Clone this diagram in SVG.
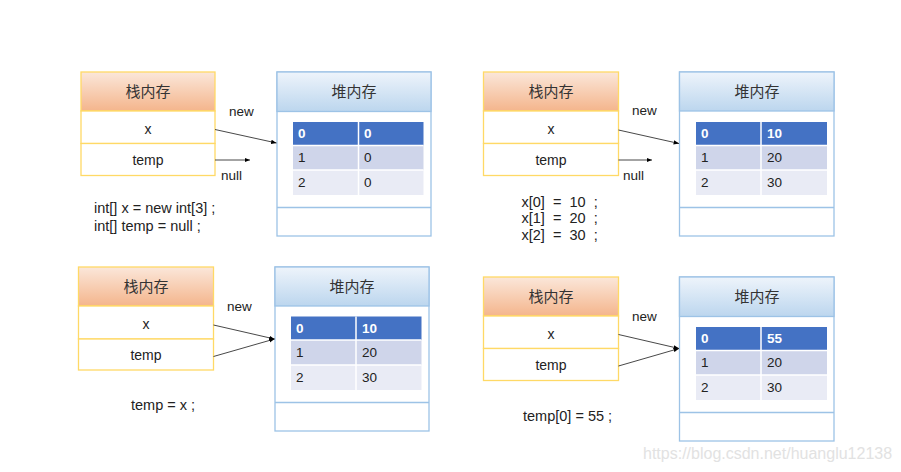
<svg xmlns="http://www.w3.org/2000/svg" width="901" height="472" viewBox="0 0 901 472">
<defs>
<linearGradient id="gs" x1="0" y1="0" x2="0" y2="1"><stop offset="0" stop-color="#fbe7da"/><stop offset="1" stop-color="#f4b58c"/></linearGradient>
<linearGradient id="gh" x1="0" y1="0" x2="0" y2="1"><stop offset="0" stop-color="#eef4fb"/><stop offset="1" stop-color="#bcd6ee"/></linearGradient>
<marker id="ah" viewBox="0 0 10 10" refX="10" refY="5" markerWidth="6" markerHeight="6" orient="auto"><path d="M0,1 L10,5 L0,9 z" fill="#000"/></marker>
</defs>
<style>
.sb{fill:#fff;stroke:#ffd966;stroke-width:1.3}
.sh{fill:url(#gs);stroke:#ffd966;stroke-width:1.3}
.hb{fill:#fff;stroke:#9dc3e6;stroke-width:1.3}
.hh{fill:url(#gh);stroke:#9dc3e6;stroke-width:1.3}
.t0{fill:#4472c4}
.t1{fill:#cfd5ea}
.t2{fill:#e9ebf5}
.cut{stroke:#fff;stroke-width:1.5}
.cn{font-family:"Noto Sans CJK SC",sans-serif;font-size:15px;fill:#333;text-anchor:middle}
.tx{font-family:"Liberation Sans",Arial,sans-serif;font-size:13.5px;fill:#222}
.rw{font-size:14px}
.cd{font-size:14.5px}
.mid{text-anchor:middle}
.wh{fill:#fff;font-weight:bold}
.ln{stroke:#333;stroke-width:0.9;fill:none}
.wm{font-family:"Liberation Sans",Arial,sans-serif;font-size:16px;fill:#e2e2e2}
</style>
<rect width="901" height="472" fill="#fff"/>

<g id="stack1">
<rect class="sh" x="81" y="72" width="134" height="39"/>
<rect class="sb" x="81" y="111" width="134" height="32.5"/>
<rect class="sb" x="81" y="143.5" width="134" height="32"/>
<text class="cn" x="148" y="97">栈内存</text>
<text class="tx rw mid" x="148" y="134">x</text>
<text class="tx rw mid" x="148" y="165">temp</text>
</g>
<g id="heap1">
<rect class="hb" x="277" y="72" width="154" height="164"/>
<rect class="hh" x="277" y="72" width="154" height="39.5"/>
<line class="hb" x1="277" y1="207.5" x2="431" y2="207.5"/>
<text class="cn" x="354" y="97">堆内存</text>
<rect class="t0" x="293" y="122" width="130.5" height="23.5"/>
<rect class="t1" x="293" y="145.5" width="130.5" height="24.5"/>
<rect class="t2" x="293" y="170" width="130.5" height="25"/>
<line class="cut" x1="358.5" y1="122" x2="358.5" y2="195"/>
<line class="cut" x1="293" y1="145.5" x2="423.5" y2="145.5"/>
<line class="cut" x1="293" y1="170" x2="423.5" y2="170"/>
<text class="tx wh" x="298" y="138">0</text><text class="tx wh" x="364" y="138">0</text>
<text class="tx" x="298" y="162">1</text><text class="tx" x="364" y="162">0</text>
<text class="tx" x="298" y="187">2</text><text class="tx" x="364" y="187">0</text>
</g>
<text class="tx cd" x="94" y="213">int[] x = new int[3] ;</text>
<text class="tx cd" x="94" y="231">int[] temp = null ;</text>

<g id="stack2">
<rect class="sh" x="483.5" y="72" width="135" height="39"/>
<rect class="sb" x="483.5" y="111" width="135" height="32.5"/>
<rect class="sb" x="483.5" y="143.5" width="135" height="32"/>
<text class="cn" x="551" y="97">栈内存</text>
<text class="tx rw mid" x="551" y="134">x</text>
<text class="tx rw mid" x="551" y="165">temp</text>
</g>
<g id="heap2">
<rect class="hb" x="679.5" y="72" width="154.5" height="164"/>
<rect class="hh" x="679.5" y="72" width="154.5" height="39"/>
<line class="hb" x1="679.5" y1="207.5" x2="834" y2="207.5"/>
<text class="cn" x="757" y="97">堆内存</text>
<rect class="t0" x="696" y="122" width="131" height="23.5"/>
<rect class="t1" x="696" y="145.5" width="131" height="24.5"/>
<rect class="t2" x="696" y="170" width="131" height="25"/>
<line class="cut" x1="761" y1="122" x2="761" y2="195"/>
<line class="cut" x1="696" y1="145.5" x2="827" y2="145.5"/>
<line class="cut" x1="696" y1="170" x2="827" y2="170"/>
<text class="tx wh" x="701" y="138">0</text><text class="tx wh" x="767" y="138">10</text>
<text class="tx" x="701" y="162">1</text><text class="tx" x="767" y="162">20</text>
<text class="tx" x="701" y="187">2</text><text class="tx" x="767" y="187">30</text>
</g>
<text class="tx cd" x="521.5" y="207" xml:space="preserve">x[0]  =  10  ;</text>
<text class="tx cd" x="521.5" y="223" xml:space="preserve">x[1]  =  20  ;</text>
<text class="tx cd" x="521.5" y="239.5" xml:space="preserve">x[2]  =  30  ;</text>

<g id="stack3">
<rect class="sh" x="78.5" y="267" width="135" height="39"/>
<rect class="sb" x="78.5" y="306" width="135" height="33"/>
<rect class="sb" x="78.5" y="339" width="135" height="31"/>
<text class="cn" x="146" y="292">栈内存</text>
<text class="tx rw mid" x="146" y="329">x</text>
<text class="tx rw mid" x="146" y="360">temp</text>
</g>
<g id="heap3">
<rect class="hb" x="275" y="267" width="154" height="164"/>
<rect class="hh" x="275" y="267" width="154" height="39"/>
<line class="hb" x1="275" y1="402.5" x2="429" y2="402.5"/>
<text class="cn" x="352" y="292">堆内存</text>
<rect class="t0" x="291" y="316.5" width="130.5" height="23.5"/>
<rect class="t1" x="291" y="340" width="130.5" height="25"/>
<rect class="t2" x="291" y="365" width="130.5" height="25"/>
<line class="cut" x1="356" y1="316.5" x2="356" y2="390"/>
<line class="cut" x1="291" y1="340" x2="421.5" y2="340"/>
<line class="cut" x1="291" y1="365" x2="421.5" y2="365"/>
<text class="tx wh" x="296" y="333">0</text><text class="tx wh" x="362" y="333">10</text>
<text class="tx" x="296" y="357">1</text><text class="tx" x="362" y="357">20</text>
<text class="tx" x="296" y="382">2</text><text class="tx" x="362" y="382">30</text>
</g>
<text class="tx cd" x="131" y="410">temp = x ;</text>

<g id="stack4">
<rect class="sh" x="483.5" y="277" width="135" height="39"/>
<rect class="sb" x="483.5" y="316" width="135" height="32.5"/>
<rect class="sb" x="483.5" y="348.5" width="135" height="32"/>
<text class="cn" x="551" y="302">栈内存</text>
<text class="tx rw mid" x="551" y="339">x</text>
<text class="tx rw mid" x="551" y="370">temp</text>
</g>
<g id="heap4">
<rect class="hb" x="679.5" y="277" width="154.5" height="164"/>
<rect class="hh" x="679.5" y="277" width="154.5" height="39.5"/>
<line class="hb" x1="679.5" y1="412.5" x2="834" y2="412.5"/>
<text class="cn" x="757" y="302">堆内存</text>
<rect class="t0" x="696" y="327" width="131" height="23.5"/>
<rect class="t1" x="696" y="350.5" width="131" height="24.5"/>
<rect class="t2" x="696" y="375" width="131" height="25"/>
<line class="cut" x1="761" y1="327" x2="761" y2="400"/>
<line class="cut" x1="696" y1="350.5" x2="827" y2="350.5"/>
<line class="cut" x1="696" y1="375" x2="827" y2="375"/>
<text class="tx wh" x="701" y="343">0</text><text class="tx wh" x="767" y="343">55</text>
<text class="tx" x="701" y="367">1</text><text class="tx" x="767" y="367">20</text>
<text class="tx" x="701" y="392">2</text><text class="tx" x="767" y="392">30</text>
</g>
<text class="tx cd" x="523" y="421">temp[0] = 55 ;</text>

<g id="connectors">
<line class="ln" x1="215" y1="129.5" x2="276.5" y2="143" marker-end="url(#ah)"/>
<line class="ln" x1="215" y1="160" x2="250" y2="160" marker-end="url(#ah)"/>
<text class="tx" x="229" y="116">new</text>
<text class="tx" x="221" y="180">null</text>

<line class="ln" x1="618.5" y1="130" x2="679" y2="143.5" marker-end="url(#ah)"/>
<line class="ln" x1="618.5" y1="160" x2="652" y2="160" marker-end="url(#ah)"/>
<text class="tx" x="632" y="115">new</text>
<text class="tx" x="623" y="180">null</text>

<line class="ln" x1="213.5" y1="325" x2="274.5" y2="339" marker-end="url(#ah)"/>
<line class="ln" x1="213.5" y1="356.5" x2="274.5" y2="339" marker-end="url(#ah)"/>
<text class="tx" x="227" y="311">new</text>

<line class="ln" x1="618.5" y1="334.5" x2="679" y2="348.5" marker-end="url(#ah)"/>
<line class="ln" x1="618.5" y1="366" x2="679" y2="348.5" marker-end="url(#ah)"/>
<text class="tx" x="632" y="321">new</text>
</g>

<text class="wm" x="643" y="459">https://blog.csdn.net/huanglu12138</text>
</svg>
